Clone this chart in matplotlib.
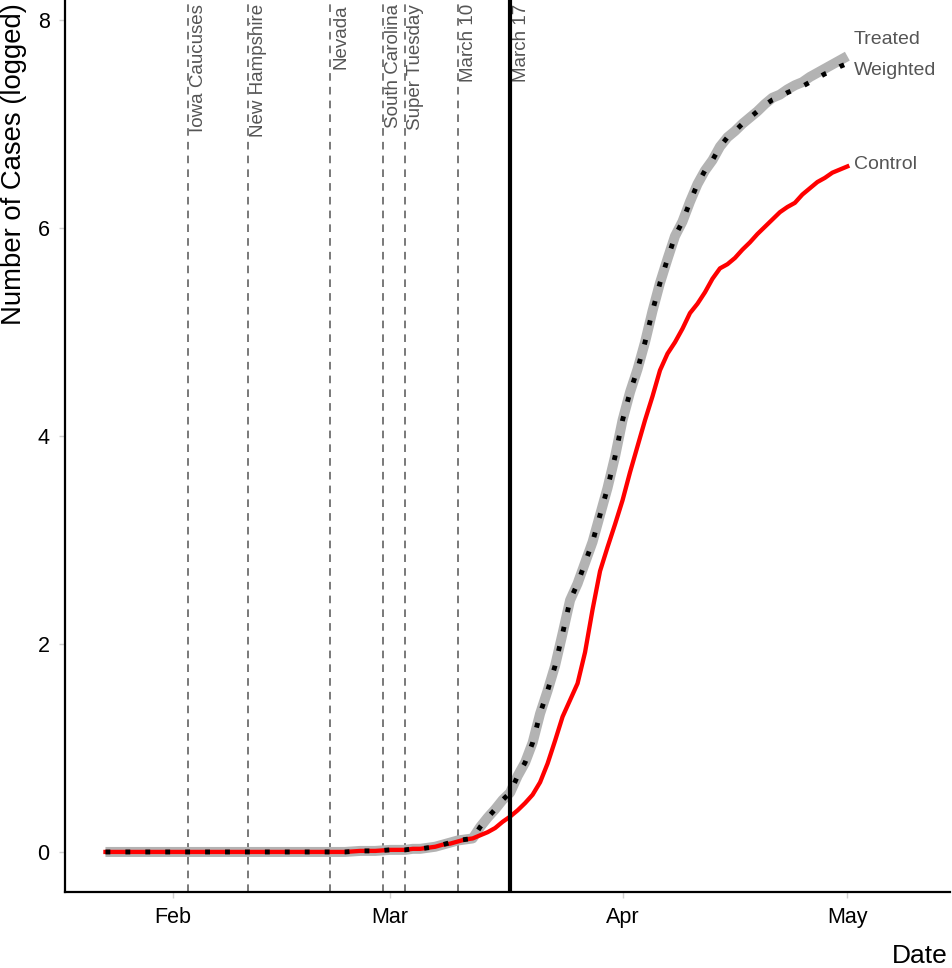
import matplotlib
matplotlib.use('Agg')
import matplotlib.pyplot as plt
import matplotlib.dates as mdates
import pandas as pd
import numpy as np

plt.rcParams['font.family'] = ['Liberation Sans', 'DejaVu Sans']

# daily series, Jan 23 -> May 1 2020
dates = pd.date_range('2020-01-23', '2020-05-01')

treated = [0.0] * 33 + [
    0.005, 0.01, 0.01, 0.01, 0.015, 0.02,          # Feb 25 - Mar 1
    0.02, 0.02, 0.03, 0.03, 0.04, 0.05, 0.07, 0.09, 0.11, 0.12,
    0.13, 0.24, 0.33, 0.41, 0.50, 0.57, 0.73, 0.86, 1.05, 1.33,
    1.55, 1.79, 2.10, 2.42, 2.58, 2.78, 2.98, 3.24, 3.50, 3.80,
    4.15, 4.42, 4.64, 4.90, 5.20, 5.47, 5.70, 5.92, 6.06, 6.25,
    6.42, 6.55, 6.65, 6.78, 6.87, 6.93, 7.00, 7.06, 7.12, 7.19,
    7.25, 7.28, 7.33, 7.37, 7.40, 7.45, 7.49, 7.53, 7.57, 7.61,
    7.65]

weighted = [0.0] * 33 + [
    0.005, 0.01, 0.01, 0.01, 0.015, 0.02,
    0.02, 0.02, 0.03, 0.03, 0.04, 0.05, 0.07, 0.09, 0.11, 0.12,
    0.13, 0.24, 0.33, 0.41, 0.50, 0.57, 0.73, 0.86, 1.05, 1.33,
    1.55, 1.79, 2.10, 2.42, 2.58, 2.78, 2.98, 3.24, 3.50, 3.80,
    4.15, 4.42, 4.64, 4.90, 5.20, 5.47, 5.70, 5.92, 6.06, 6.25,
    6.42, 6.55, 6.65, 6.78, 6.87, 6.93, 7.00, 7.06, 7.12, 7.18,
    7.23, 7.26, 7.30, 7.33, 7.36, 7.40, 7.44, 7.48, 7.51, 7.55,
    7.58]

control = [0.0] * 33 + [
    0.005, 0.01, 0.01, 0.01, 0.015, 0.02,
    0.02, 0.02, 0.03, 0.03, 0.04, 0.05, 0.07, 0.08, 0.10, 0.12,
    0.13, 0.16, 0.19, 0.23, 0.29, 0.34, 0.40, 0.47, 0.55, 0.67,
    0.85, 1.07, 1.30, 1.46, 1.62, 1.92, 2.33, 2.70, 2.93, 3.15,
    3.38, 3.65, 3.90, 4.15, 4.38, 4.63, 4.79, 4.90, 5.03, 5.18,
    5.27, 5.38, 5.51, 5.61, 5.65, 5.71, 5.79, 5.86, 5.94, 6.01,
    6.08, 6.15, 6.20, 6.24, 6.32, 6.38, 6.44, 6.48, 6.53, 6.56,
    6.59]

events = ['Iowa Caucuses', 'New Hampshire', 'Nevada', 'South Carolina',
          'Super Tuesday', 'March 10']
event_dates = ['2020-02-03', '2020-02-11', '2020-02-22', '2020-02-29',
               '2020-03-03', '2020-03-10']
treat_label = 'March 17'
treat_date = '2020-03-17'

fig = plt.figure(figsize=(9.53, 9.68), dpi=100)
ax = fig.add_axes([65 / 953, 76 / 968, 885 / 953, 892 / 968])

ymax = 8.19
for name, d in zip(events, event_dates):
    d = pd.Timestamp(d)
    ax.axvline(d, color='#555555', lw=1.1, ls=(0, (5, 4)), zorder=1)
    ax.annotate(name, xy=(d, ymax), xytext=(1.5, -3), textcoords='offset points',
                rotation=90, ha='left', va='top', fontsize=13.5, color='#555555')

td = pd.Timestamp(treat_date)
ax.axvline(td, color='black', lw=3, zorder=5)
ax.annotate(treat_label, xy=(td, ymax), xytext=(2, -3), textcoords='offset points',
            rotation=90, ha='left', va='top', fontsize=13.5, color='#555555')

ax.plot(dates, treated, color='#b3b3b3', lw=7.2, solid_capstyle='butt', zorder=2)
ax.plot(dates, control, color='#ff0000', lw=3.1, zorder=3)
ax.plot(dates, weighted, color='black', lw=3.5, ls=(0, (1, 3.1)),
        dash_capstyle='butt', zorder=4)

ax.annotate('Treated', xy=(dates[-1], treated[-1]), xytext=(4.5, 12),
            textcoords='offset points', ha='left', va='center', fontsize=14, color='#555555')
ax.annotate('Weighted', xy=(dates[-1], weighted[-1]), xytext=(4.5, -5),
            textcoords='offset points', ha='left', va='center', fontsize=14, color='#555555')
ax.annotate('Control', xy=(dates[-1], control[-1]), xytext=(4.5, 1.5),
            textcoords='offset points', ha='left', va='center', fontsize=14, color='#555555')

ax.set_xlim(pd.Timestamp('2020-01-22') - pd.Timedelta(days=4.4),
            dates[-1] + pd.Timedelta(days=13.7))
ax.set_ylim(-0.385, ymax)

ax.xaxis.set_major_formatter(mdates.DateFormatter('%b'))
ax.set_xticks(pd.to_datetime(['2020-02-01', '2020-03-01', '2020-04-01', '2020-05-01']))
ax.set_yticks([0, 2, 4, 6, 8])

for s in ['top', 'right']:
    ax.spines[s].set_visible(False)
for s in ['left', 'bottom']:
    ax.spines[s].set_linewidth(1.6)
    ax.spines[s].set_color('black')

ax.tick_params(axis='both', length=4, width=1, color='#d0d0d0', labelsize=15.5,
               labelcolor='black', pad=7)

ax.set_xlabel('Date', fontsize=19, loc='right')
ax.xaxis.set_label_coords(0.997, -0.058)
ax.set_ylabel('Number of Cases (logged)', fontsize=19.8, loc='top')
ax.yaxis.set_label_coords(-0.043, 0.997)

fig.savefig('out.png', dpi=100)
